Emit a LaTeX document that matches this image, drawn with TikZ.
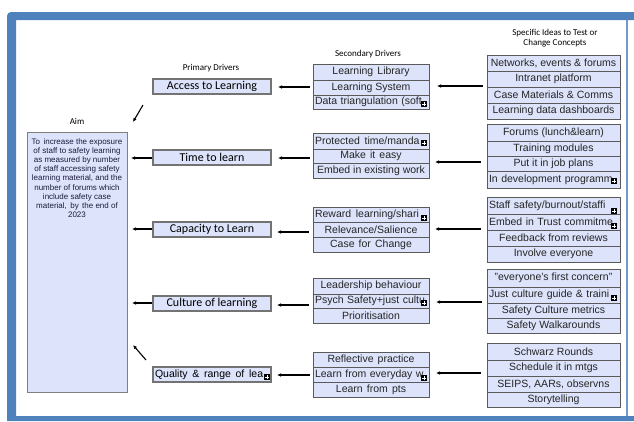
\documentclass[tikz,border=0pt]{standalone}
\usepackage{fontspec}
\setmainfont{Liberation Sans}
\newfontfamily\calfont{Carlito}
\usetikzlibrary{arrows.meta}
\definecolor{frameblue}{HTML}{4F81BD}
\definecolor{cellfill}{HTML}{DCE3FA}
\definecolor{cellline}{HTML}{5A5A5A}
\definecolor{aimtext}{HTML}{1C1C3C}
\newcommand{\wsp}{\ \hspace{1.2pt}}
\begin{document}
\begin{tikzpicture}[x=1pt,y=-1pt,
  cellbase/.style={draw=cellline, line width=0.8pt, fill=cellfill, inner sep=0pt,
    font=\fontsize{10.5}{12}\selectfont, text=black!85},
  icell/.style={cellbase, minimum width=133},
  scell/.style={cellbase, minimum width=116},
  icellL/.style={cellbase, text width=129, inner xsep=2, align=left},
  scellL/.style={cellbase, text width=112, inner xsep=2, align=left},
  pbox/.style={draw=black!55, line width=1.2pt, fill=cellfill, inner sep=0pt,
    minimum width=118, minimum height=15, font=\calfont\fontsize{12}{13}\selectfont},
  hdr/.style={font=\calfont\fontsize{9}{10.5}\selectfont, align=center, inner sep=0pt},
  icon/.style={fill=black, minimum size=6, inner sep=0pt,
    path picture={\draw[white, line width=0.6pt]
      ([xshift=-1.6pt]path picture bounding box.center) -- ([xshift=1.6pt]path picture bounding box.center)
      ([yshift=-1.6pt]path picture bounding box.center) -- ([yshift=1.6pt]path picture bounding box.center);}},
  arr/.style={-{Latex[length=4pt,width=3.6pt]}, line width=1.1pt, black}]
\useasboundingbox (0,0) rectangle (634,421);
\fill[white] (0,0) rectangle (634,421);
% frame
\fill[frameblue] (7,421) [rounded corners=4pt]-- (7,12) [sharp corners]-- (634,12) -- (634,20)
  -- (16,20) -- (16,416) -- (634,416) -- (634,421) -- cycle;
\draw[frameblue!80, line width=1.2pt] (627,20) -- (627,416);

% headers
\node[hdr] (haim) at (77,121) {Aim};
\node[hdr] (hprim) at (211,68) {Primary Drivers};
\node[hdr] (hsec) at (368,54) {Secondary Drivers};
\node[hdr] (hidea) at (555,38) {Specific Ideas to Test or\\Change Concepts};

% aim
\node[draw=black!50, line width=1pt, fill=cellfill, minimum width=100, minimum height=260, inner sep=0pt] (aim) at (77,262) {};
\node[anchor=north, align=center, inner sep=0pt, text=aimtext,
  font=\fontsize{8}{9.2}\selectfont] (aimtxt) at (77,138)
  {To\wsp increase the exposure\\of staff to safety learning\\as measured by number\\of staff accessing safety\\learning material, and the\\number of forums which\\include safety case\\material,\wsp by\wsp the end of\\2023};

% primary drivers
\node[pbox] (p1) at (212,86.5) {Access to Learning};
\node[pbox] (p2) at (212,157.5) {Time to learn};
\node[pbox] (p3) at (212,229.5) {Capacity to Learn};
\node[pbox] (p4) at (212,303.5) {Culture of learning};
\node[pbox, font=\fontsize{10.5}{12}\selectfont, text width=114, inner xsep=2, align=left] (p5) at (212,374.5) {\mbox{Quality\wsp\&\wsp range\wsp of\wsp lea}};
\node[icon] (p5i) at (267,377) {};

% secondary drivers
\node[scell, minimum height=16] (s11) at (371,72) {Learning\wsp Library};
\node[scell, minimum height=15] (s12) at (371,87.5) {Learning System};
\node[scellL, minimum height=14] (s13) at (371,102) {\mbox{Data triangulation (soft}};
\node[icon] (s13i) at (424,104) {};

\node[scellL, minimum height=16] (s21) at (371,141) {\mbox{Protected\wsp time/manda}};
\node[icon] (s21i) at (424,143) {};
\node[scell, minimum height=14] (s22) at (371,156) {Make\wsp it\wsp easy};
\node[scell, minimum height=15] (s23) at (371,170.5) {Embed in existing work};

\node[scellL, minimum height=15] (s31) at (371,214.5) {\mbox{Reward\wsp learning/shari}};
\node[icon] (s31i) at (424,218) {};
\node[scell, minimum height=15] (s32) at (371,229.5) {Relevance/Salience};
\node[scell, minimum height=15] (s33) at (371,244.5) {Case\wsp for\wsp Change};

\node[scell, minimum height=16] (s41) at (371,286) {Leadership behaviour};
\node[scellL, minimum height=14] (s42) at (371,301) {\mbox{Psych Safety+just cultu}};
\node[icon] (s42i) at (424,303) {};
\node[scell, minimum height=15] (s43) at (371,315.5) {Prioritisation};

\node[scell, minimum height=15] (s51) at (371,359.5) {Reflective\wsp practice};
\node[scellL, minimum height=15] (s52) at (371,374.5) {\mbox{Learn from everyday w}};
\node[icon] (s52i) at (424,378) {};
\node[scell, minimum height=15] (s53) at (371,389.5) {Learn\wsp from\wsp pts};

% ideas
\node[icell, minimum height=16] (i11) at (553.5,63) {Networks, events \& forums};
\node[icell, minimum height=16] (i12) at (553.5,79) {Intranet platform};
\node[icell, minimum height=16] (i13) at (553.5,95) {Case Materials \& Comms};
\node[icell, minimum height=16] (i14) at (553.5,111) {Learning data dashboards};

\node[icell, minimum height=17] (i21) at (553.5,132.5) {Forums (lunch\&learn)};
\node[icell, minimum height=15] (i22) at (553.5,148.5) {Training modules};
\node[icell, minimum height=15] (i23) at (553.5,163.5) {Put it in job plans};
\node[icellL, minimum height=17] (i24) at (553.5,179.5) {\mbox{In development programm}};
\node[icon] (i24i) at (614,181) {};

\node[icellL, minimum height=17] (i31) at (553.5,205.5) {\mbox{Staff safety/burnout/staffi}};
\node[icon] (i31i) at (614,211) {};
\node[icellL, minimum height=16] (i32) at (553.5,222) {\mbox{Embed in Trust commitme}};
\node[icon] (i32i) at (614,226) {};
\node[icell, minimum height=16] (i33) at (553.5,238) {Feedback from reviews};
\node[icell, minimum height=16] (i34) at (553.5,254) {Involve everyone};

\node[icell, minimum height=18] (i41) at (553.5,278) {"everyone's first concern"};
\node[icellL, minimum height=16] (i42) at (553.5,295) {\mbox{Just culture guide \& traini}};
\node[icon] (i42i) at (614,298) {};
\node[icell, minimum height=15] (i43) at (553.5,310.5) {Safety Culture metrics};
\node[icell, minimum height=15] (i44) at (553.5,325.5) {Safety Walkarounds};

\node[icell, minimum height=17] (i51) at (553.5,351.5) {Schwarz Rounds};
\node[icell, minimum height=16] (i52) at (553.5,368) {Schedule it in mtgs};
\node[icell, minimum height=16] (i53) at (553.5,384) {SEIPS, AARs, observns};
\node[icell, minimum height=15] (i54) at (553.5,399.5) {Storytelling};

% connector end points
\coordinate (a1s) at (483,86);  \coordinate (a1e) at (437,86);
\coordinate (a2s) at (481,162); \coordinate (a2e) at (435,162);
\coordinate (a3s) at (481,229); \coordinate (a3e) at (435,229);
\coordinate (a4s) at (482,302); \coordinate (a4e) at (436,302);
\coordinate (a5s) at (481,373); \coordinate (a5e) at (436,373);
\coordinate (b1s) at (310,87);  \coordinate (b1e) at (278,87);
\coordinate (b2s) at (310,158); \coordinate (b2e) at (278,158);
\coordinate (b3s) at (309,232); \coordinate (b3e) at (277,232);
\coordinate (b4s) at (309,305); \coordinate (b4e) at (277,305);
\coordinate (b5s) at (310,375); \coordinate (b5e) at (277,375);
\coordinate (c1s) at (143,105); \coordinate (c1e) at (133,122);
\coordinate (c2s) at (152,158); \coordinate (c2e) at (131,158);
\coordinate (c3s) at (152,229); \coordinate (c3e) at (132,229);
\coordinate (c4s) at (152,303); \coordinate (c4e) at (132,303);
\coordinate (c5s) at (146,360); \coordinate (c5e) at (133,345);

\foreach \k in {1,...,5}{
  \draw[arr] (a\k s) -- (a\k e);
  \draw[arr] (b\k s) -- (b\k e);
  \draw[arr] (c\k s) -- (c\k e);
}
\end{tikzpicture}
\end{document}
